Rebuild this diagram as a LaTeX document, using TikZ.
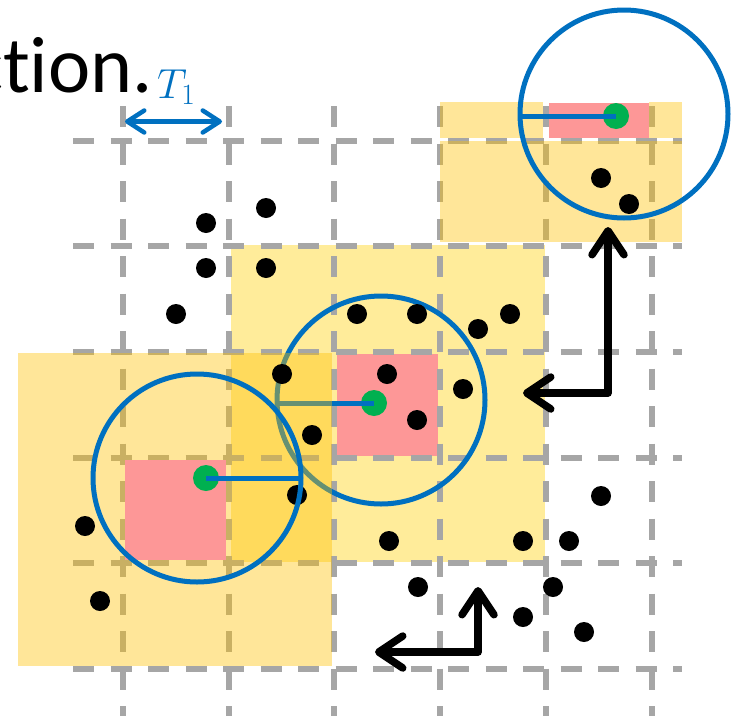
\RequirePackage{fix-cm}
\documentclass[tikz,border=0pt]{standalone}
\usepackage{fontspec}
\setmainfont{Carlito}[Ligatures={NoCommon}]
\usetikzlibrary{arrows.meta}

\definecolor{gridgray}{HTML}{A6A6A6}
\definecolor{ringblue}{HTML}{0070C0}
\definecolor{ptgreen}{HTML}{00B050}
\definecolor{cellpink}{HTML}{FD9797}
\definecolor{goldfill}{HTML}{FFC000}
\definecolor{paleyellow}{HTML}{FFEC9A}

\tikzset{
  gridline/.style={draw=gridgray, line width=6pt, dash pattern=on 21pt off 16.5pt},
  goldcells/.style={fill=goldfill, fill opacity=0.4},
  querycell/.style={fill=cellpink},
  pt/.style={circle, fill=black, minimum size=20pt, inner sep=0pt, outer sep=0pt},
  centre/.style={circle, fill=ptgreen, minimum size=26pt, inner sep=0pt, outer sep=0pt},
  ring/.style={circle, draw=ringblue, line width=5pt, minimum size=208pt, inner sep=0pt, outer sep=0pt},
  radius/.style={draw=ringblue, line width=5pt},
  moveto/.style={draw=black, line width=7.5pt, line join=round,
    {Straight Barb[length=24pt, width=32pt, round]}-{Straight Barb[length=24pt, width=32pt, round]}},
  span/.style={draw=ringblue, line width=4.5pt,
    {Straight Barb[length=17pt, width=22pt, round]}-{Straight Barb[length=17pt, width=22pt, round]}},
}

\begin{document}
\begin{tikzpicture}[x=1pt, y=-1pt]
\useasboundingbox (0,0) rectangle (733,715);

% neighbourhood of the middle query cell (opaque, under the grid)
\fill[paleyellow] (231,245) rectangle (545,562);
\fill[querycell] (337,354) rectangle (438,456);

% dashed cell grid
\foreach \i in {0,...,5}
  \draw[gridline] (123+105.7*\i,106) -- (123+105.7*\i,716);
\foreach \j in {0,...,5}
  \draw[gridline] (73,140.5+105.7*\j) -- (682,140.5+105.7*\j);

% middle search circle
\node[centre] (g2) at (374,403) {};
\node[ring] (c2) at (381,400) {};
\draw[radius] (g2.center) -- (g2.center -| c2.west);

% translucent neighbourhoods of the left and top-right query cells
\fill[goldcells] (18,353) rectangle (332,666);
\fill[goldcells] (440,102) rectangle (543,137.5);
\fill[goldcells] (649,102) rectangle (682,137.5);
\fill[goldcells] (440,141) rectangle (682,242);

% query cells
\fill[querycell] (125,460) rectangle (226,560);
\fill[querycell] (549,103) rectangle (649,138);

% data points
\foreach \x/\y [count=\k] in {206/223, 266/208, 206/268, 266/268, 176/314,
    357/314, 417/314, 478/329, 510/314, 282/374, 387/374, 463/389,
    312/435, 417/420, 297/495, 85/526, 100/601, 389/541, 523/541,
    569/541, 601/496, 418/587, 553/587, 523/617, 584/632, 601/178, 629/204}
  \node[pt] (p\k) at (\x,\y) {};

% left search circle
\node[centre] (g1) at (206,478) {};
\node[ring] (c1) at (197,478) {};
\draw[radius] (g1.center) -- (c1.east);

% top-right search circle
\node[centre] (g3) at (616,116) {};
\node[ring] (c3) at (624,114) {};
\draw[radius] (g3.center) -- (g3.center -| c3.west);

% moves between query cells
\coordinate (ra) at (608,227);
\coordinate (rc) at (608,393);
\coordinate (rb) at (523,393);
\draw[moveto] (ra) -- (rc) -- (rb);
\coordinate (la) at (478,587);
\coordinate (lc) at (478,652);
\coordinate (lb) at (375,652);
\draw[moveto] (la) -- (lc) -- (lb);

% cell size
\coordinate (sa) at (125,121.5);
\coordinate (sb) at (222,121.5);
\draw[span] (sa) -- (sb);
\node[anchor=base west, inner sep=0pt, text=ringblue,
      font=\fontsize{42}{50}\selectfont] (tlab) at (157,98) {$T_1$};

% caption fragment
\node[anchor=base west, inner sep=0pt, font=\fontsize{80}{96}\selectfont] (cap) at (-31,92) {ction.};
\end{tikzpicture}
\end{document}
